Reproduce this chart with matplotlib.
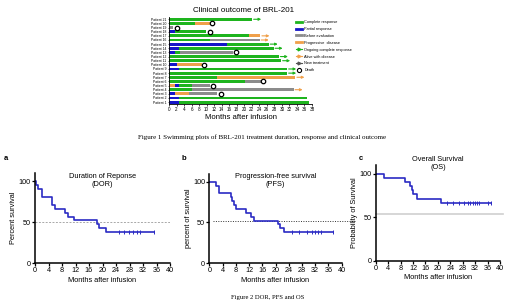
import numpy as np
import matplotlib
matplotlib.use("Agg")
import matplotlib.pyplot as plt
from matplotlib.lines import Line2D

plt.rcParams['font.family'] = ['Liberation Sans', 'DejaVu Sans']

W, H = 520, 304

# ---- swimmer plot data (Patient 21 at top) ----
patients = ["Patient %d" % i for i in range(21, 0, -1)]
segments = [
    [("CR", 22.1)],
    [("CR", 7.0), ("PD", 10.8)],
    [("BE", 1.0)],
    [("PR", 1.7), ("CR", 9.9)],
    [("CR", 21.2), ("PD", 24.3)],
    [("CR", 11.0), ("BE", 24.1)],
    [("PR", 15.4), ("CR", 26.5)],
    [("PR", 2.6), ("CR", 27.8)],
    [("PR", 1.7), ("CR", 3.0), ("BE", 17.0)],
    [("CR", 29.2)],
    [("CR", 29.8)],
    [("PR", 2.2), ("PD", 8.8)],
    [("PR", 2.6), ("CR", 31.4)],
    [("CR", 31.4)],
    [("CR", 12.8), ("PD", 33.6)],
    [("CR", 20.3), ("BE", 24.7)],
    [("PD", 1.7), ("PR", 2.6), ("CR", 6.2), ("BE", 11.0)],
    [("CR", 6.0), ("BE", 33.1)],
    [("PR", 1.7), ("PD", 5.3), ("BE", 12.8)],
    [("PR", 2.6), ("CR", 36.8)],
    [("PR", 2.6), ("CR", 37.3)],
]
death = [None, 11.5, 2.2, 10.8, None, None, None, None, 17.8, None, None,
         9.2, None, None, None, 25.1, 11.7, None, 13.7, None, None]
ongoing = ["CR", None, None, None, "PD", "PD", "CR", "CR", None, "CR", "CR",
           None, "CR", "CR", "PD", None, None, "PD", None, "CR", "CR"]

colors = {"CR": "#1eb41e", "PR": "#1515c8", "BE": "#8c8c8c", "PD": "#f0a04a", "NT": "#555555"}

# ---- survival data (step times, percent) ----
dor_t = [0, 0.3, 1.0, 2.0, 4.9, 5.9, 8.9, 9.9, 11.6, 18.5, 19.1, 21.0, 35.4]
dor_s = [100, 95.2, 90.5, 81.0, 71.4, 66.7, 61.9, 57.1, 52.4, 47.6, 42.9, 38.1, 38.1]
dor_cens = [25.0, 26.4, 27.9, 29.1, 30.2, 31.0, 35.4]

pfs_t = [0, 2.0, 2.8, 6.6, 7.0, 7.4, 8.2, 11.0, 12.6, 13.4, 20.8, 21.4, 22.5, 37.3]
pfs_s = [100, 95.2, 85.7, 81.0, 76.2, 71.4, 66.7, 61.9, 57.1, 52.4, 47.6, 42.9, 38.1, 38.1]
pfs_cens = [25.0, 27.0, 29.4, 30.9, 31.9, 32.9, 33.8, 37.3]

os_t = [0, 2.8, 9.4, 11.0, 11.6, 12.1, 13.2, 21.0, 37.0]
os_s = [100, 95.2, 90.5, 85.7, 81.0, 76.2, 71.4, 66.7, 66.7]
os_cens = [23.0, 25.0, 26.8, 28.4, 29.6, 30.3, 31.2, 32.0, 32.7, 33.4, 36.2, 37.0]


def box(l, t, r, b):
    return [l / W, 1 - b / H, (r - l) / W, (b - t) / H]


fig = plt.figure(figsize=(W / 100, H / 100), dpi=100)

# ================= swimmer =================
ax = fig.add_axes(box(169, 17.2, 312, 104.2))
ys = np.arange(len(patients))[::-1]
for y, segs, d, og in zip(ys, segments, death, ongoing):
    start = 0
    for st, end in segs:
        ax.barh(y, end - start, left=start, height=0.68, color=colors[st], linewidth=0)
        start = end
    if d is not None:
        ax.plot(d, y, 'o', mfc='white', mec='black', ms=3.2, mew=0.9)
    if og is not None:
        ax.annotate('', xy=(start + 2.4, y), xytext=(start + 0.4, y),
                    arrowprops=dict(arrowstyle='-|>', color=colors[og], lw=0.8,
                                    mutation_scale=3.5, shrinkA=0, shrinkB=0))
ax.set_xlim(0, 38)
ax.set_ylim(-0.5, len(patients) - 0.5)
ax.set_yticks(ys)
ax.set_yticklabels(patients, fontsize=2.4)
ax.set_xticks(np.arange(0, 39, 2))
ax.tick_params(axis='x', labelsize=3.3, length=1.2, width=0.5, pad=1)
ax.tick_params(axis='y', length=1.0, width=0.4, pad=0.8)
for s in ['top', 'right']:
    ax.spines[s].set_visible(False)
for s in ['left', 'bottom']:
    ax.spines[s].set_linewidth(0.6)
ax.set_xlabel("Months after infusion", fontsize=5.6, labelpad=1.5)
ax.set_title("Clinical outcome of BRL-201", fontsize=5.8, pad=4, x=0.52)

handles = [
    Line2D([], [], color=colors["CR"], lw=2),
    Line2D([], [], color=colors["PR"], lw=2),
    Line2D([], [], color=colors["BE"], lw=2),
    Line2D([], [], color=colors["PD"], lw=2),
    Line2D([], [], color=colors["CR"], lw=0.8, marker='>', ms=2),
    Line2D([], [], color=colors["PD"], lw=0.8, marker='>', ms=2),
    Line2D([], [], color=colors["NT"], lw=0.8, marker='>', ms=2),
    Line2D([], [], color='black', lw=0, marker='o', mfc='white', ms=3, mew=0.8),
]
labels = ["Complete response", "Partial response", "Before evaluation",
          "Progressive  disease", "Ongoing complete response", "Alive with disease",
          "New treatment", "Death"]
fig.legend(handles, labels, loc='upper left', bbox_to_anchor=(294 / W, 1 - 18 / H),
           fontsize=2.8, frameon=False, handlelength=1.6, handletextpad=0.6,
           labelspacing=0.75, borderpad=0)

fig.text(262 / W, 1 - 137.5 / H,
         "Figure 1 Swimming plots of BRL-201 treatment duration, response and clinical outcome",
         fontsize=5.0, family='Liberation Serif', ha='center', va='center')

# ================= KM panels =================
blue = '#2b2bc4'


def km(ax, t, s, cens, title, ylabel):
    ax.step(t, s, where='post', color=blue, lw=1.2)
    cy = [s[np.searchsorted(t, c, side='right') - 1] for c in cens]
    ax.plot(cens, cy, '|', color=blue, ms=2.2, mew=0.7)
    ax.set_xlim(0, 40)
    ax.set_ylim(0, 110)
    ax.set_xticks(np.arange(0, 41, 4))
    ax.set_yticks([0, 50, 100])
    ax.tick_params(labelsize=5.2, length=2, width=0.9, pad=1)
    for sp in ['top', 'right']:
        ax.spines[sp].set_visible(False)
    for sp in ['left', 'bottom']:
        ax.spines[sp].set_linewidth(1.1)
    ax.set_xlabel("Months after infusion", fontsize=5.3, labelpad=1.5)
    ax.set_ylabel(ylabel, fontsize=5.3, labelpad=1)
    ax.text(0.5, 1.0, title, transform=ax.transAxes, ha='center', va='top',
            fontsize=5.3, linespacing=1.15)


axa = fig.add_axes(box(35, 173.3, 170, 263.3))
axa.plot([0, 40], [50, 50], color='#a8a8a8', lw=0.7, ls=(0, (2, 1.5)))
km(axa, dor_t, dor_s, dor_cens, "Duration of Reponse\n(DOR)", "Percent survival")

axb = fig.add_axes(box(209.3, 173.5, 341.7, 263.3))
axb.plot([1, 44], [52, 52], color='#333333', lw=0.7, ls=(0, (1, 1.5)), clip_on=False)
km(axb, pfs_t, pfs_s, pfs_cens, "Progression-free survival\n(PFS)", "percent of survival")

axc = fig.add_axes(box(375.7, 165, 500, 260.7))
axc.plot([0, 41], [53.5, 53.5], color='#cfcfcf', lw=1.2, clip_on=False)
km(axc, os_t, os_s, os_cens, "Overall Survival\n(OS)", "Probability of Survival")
axc.texts[-1].set_position((0.5, 1.095))

for lx, lab in [(6, 'a'), (184, 'b'), (361, 'c')]:
    fig.text(lx / W, 1 - 158 / H, lab, fontsize=5.5, weight='bold', ha='center', va='center')

fig.text(268 / W, 1 - 297 / H, "Figure 2 DOR, PFS and OS", fontsize=4.8,
         family='Liberation Serif', ha='center', va='center')

fig.savefig("out.png", dpi=100)
